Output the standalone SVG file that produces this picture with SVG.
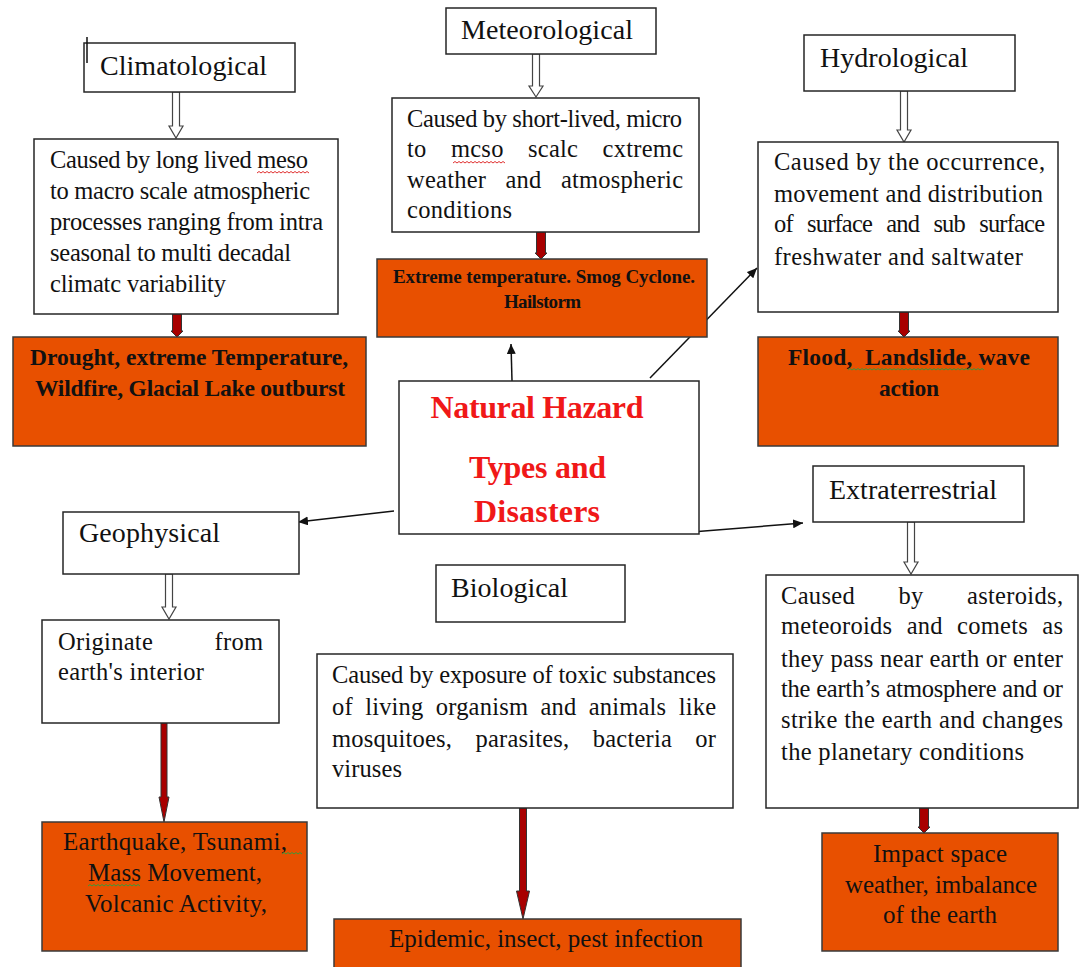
<svg xmlns="http://www.w3.org/2000/svg" width="1080" height="967" viewBox="0 0 1080 967">
<style>
.box{fill:#fff;stroke:#262626;stroke-width:1.5}
.res{fill:#E85000;stroke:#3a3a3a;stroke-width:1.5}
.t{font-family:"Liberation Serif","Times New Roman",serif;fill:#111}
.title{font-size:28px}
.desc{font-size:24.5px}
.rt{font-size:25px}
.rb{font-size:23.5px;font-weight:bold}
.mb{font-size:19px;font-weight:bold}
.ctr{font-size:32px;font-weight:bold;fill:#F01818;text-anchor:middle}
.mid{text-anchor:middle}
.conn{stroke:#111;stroke-width:1.5;fill:none;marker-end:url(#ah)}
.hollow{fill:#fff;stroke:#444;stroke-width:1.2}
.redar{fill:#A80000;stroke:#333;stroke-width:1}
.sqr{fill:none;stroke:#e03030;stroke-width:1}
.sqg{fill:none;stroke:#3a9a3a;stroke-width:1}
</style>
<defs>
<marker id="ah" markerUnits="userSpaceOnUse" markerWidth="11" markerHeight="9" refX="10" refY="4.5" orient="auto">
<path d="M0,0 L10,4.5 L0,9 z" fill="#111"/>
</marker>
</defs>

<g id="connectors">
<line class="conn" x1="512" y1="381" x2="511" y2="344"/>
<line class="conn" x1="650" y1="378" x2="757" y2="268"/>
<line class="conn" x1="394" y1="511" x2="298" y2="522"/>
<line class="conn" x1="679" y1="533" x2="803" y2="523"/>
<polygon class="hollow" points="172.5,92 179.5,92 179.5,126 183,126 176,138 169,126 172.5,126"/>
<polygon class="hollow" points="532.5,54 539.5,54 539.5,86 543,86 536,97 529,86 532.5,86"/>
<polygon class="hollow" points="900.5,91 907.5,91 907.5,130 911,130 904,142 897,130 900.5,130"/>
<polygon class="hollow" points="165.5,574 172.5,574 172.5,607 176,607 169,619 162,607 165.5,607"/>
<polygon class="hollow" points="907.5,522 914.5,522 914.5,562 918,562 911,574 904,562 907.5,562"/>
<polygon class="redar" points="172.5,314 181.5,314 181.5,331 183,331 177,337 171,331 172.5,331"/>
<polygon class="redar" points="536.5,232 545.5,232 545.5,253 547,253 541,259 535,253 536.5,253"/>
<polygon class="redar" points="899.5,312 908.5,312 908.5,331 910,331 904,337 898,331 899.5,331"/>
<polygon class="redar" points="919.5,808 928.5,808 928.5,827 930,827 924,833 918,827 919.5,827"/>
<polygon class="redar" points="161,723 167,723 167,797 169,797 164,822 159,797 161,797"/>
<polygon class="redar" points="519.5,808 526.5,808 526.5,891 529.5,891 523,919 516.5,891 519.5,891"/>
</g>

<g id="climatological">
<rect class="box" x="84" y="43" width="211" height="49"/>
<line x1="87" y1="37" x2="87" y2="63" stroke="#111" stroke-width="1.5"/>
<text class="t title" x="100" y="75" textLength="167" lengthAdjust="spacing">Climatological</text>
</g>
<g id="climatological-desc">
<rect class="box" x="34" y="139" width="304" height="175"/>
<text class="t desc" x="50" y="168" textLength="258" lengthAdjust="spacing">Caused by long lived meso</text>
<text class="t desc" x="50" y="199" textLength="260" lengthAdjust="spacing">to macro scale atmospheric</text>
<text class="t desc" x="50" y="230" textLength="273" lengthAdjust="spacing">processes ranging from intra</text>
<text class="t desc" x="50" y="261" textLength="241" lengthAdjust="spacing">seasonal to multi decadal</text>
<text class="t desc" x="50" y="292" textLength="176" lengthAdjust="spacing">climatc variability</text>
<path class="sqr" d="M257 173 l2 -1.5 l2 1.5 l2 -1.5 l2 1.5 l2 -1.5 l2 1.5 l2 -1.5 l2 1.5 l2 -1.5 l2 1.5 l2 -1.5 l2 1.5 l2 -1.5 l2 1.5 l2 -1.5 l2 1.5 l2 -1.5 l2 1.5 l2 -1.5 l2 1.5 l2 -1.5 l2 1.5 l2 -1.5 l2 1.5 l2 -1.5 l2 1.5"/>
</g>
<g id="climatological-result">
<rect class="res" x="13" y="337" width="353" height="109"/>
<text class="t rb mid" x="189" y="365" textLength="318" lengthAdjust="spacing">Drought, extreme Temperature,</text>
<text class="t rb mid" x="190" y="396" textLength="310" lengthAdjust="spacing">Wildfire, Glacial Lake outburst</text>
</g>

<g id="meteorological">
<rect class="box" x="446" y="8" width="210" height="46"/>
<text class="t title" x="461" y="39" textLength="172" lengthAdjust="spacing">Meteorological</text>
</g>
<g id="meteorological-desc">
<rect class="box" x="392" y="98" width="307" height="134"/>
<text class="t desc" x="407" y="127" textLength="275" lengthAdjust="spacing">Caused by short-lived, micro</text>
<text class="t desc" x="407" y="157" word-spacing="18" textLength="276" lengthAdjust="spacing">to mcso scalc cxtremc</text>
<text class="t desc" x="407" y="188" word-spacing="13" textLength="276" lengthAdjust="spacing">weather and atmospheric</text>
<text class="t desc" x="407" y="218" textLength="105" lengthAdjust="spacing">conditions</text>
<path class="sqr" d="M453 163 l2 -1.5 l2 1.5 l2 -1.5 l2 1.5 l2 -1.5 l2 1.5 l2 -1.5 l2 1.5 l2 -1.5 l2 1.5 l2 -1.5 l2 1.5 l2 -1.5 l2 1.5 l2 -1.5 l2 1.5 l2 -1.5 l2 1.5 l2 -1.5 l2 1.5 l2 -1.5 l2 1.5 l2 -1.5 l2 1.5 l2 -1.5 l2 1.5"/>
</g>
<g id="meteorological-result">
<rect class="res" x="377" y="259" width="330" height="78"/>
<text class="t mb mid" x="544" y="283" textLength="302" lengthAdjust="spacing">Extreme temperature. Smog Cyclone.</text>
<text class="t mb mid" x="542.5" y="308" textLength="77" lengthAdjust="spacing">Hailstorm</text>
</g>

<g id="hydrological">
<rect class="box" x="804" y="35" width="211" height="56"/>
<text class="t title" x="820" y="67" textLength="148" lengthAdjust="spacing">Hydrological</text>
</g>
<g id="hydrological-desc">
<rect class="box" x="758" y="142" width="300" height="170"/>
<text class="t desc" x="774" y="170" textLength="271" lengthAdjust="spacing">Caused by the occurrence,</text>
<text class="t desc" x="774" y="202" textLength="269" lengthAdjust="spacing">movement and distribution</text>
<text class="t desc" x="774" y="232" word-spacing="9" textLength="271" lengthAdjust="spacing">of surface and sub surface</text>
<text class="t desc" x="774" y="265" textLength="249" lengthAdjust="spacing">freshwater and saltwater</text>
</g>
<g id="hydrological-result">
<rect class="res" x="758" y="337" width="300" height="109"/>
<text class="t rb mid" x="909" y="365" textLength="242" lengthAdjust="spacing" style="white-space:pre">Flood,  Landslide, wave</text>
<text class="t rb mid" x="909" y="396" textLength="60" lengthAdjust="spacing">action</text>
<path class="sqg" d="M848 370 l2 -1.5 l2 1.5 l2 -1.5 l2 1.5 l2 -1.5 l2 1.5 l2 -1.5 l2 1.5 l2 -1.5 l2 1.5 l2 -1.5 l2 1.5 l2 -1.5 l2 1.5 l2 -1.5 l2 1.5 l2 -1.5 l2 1.5 l2 -1.5 l2 1.5 l2 -1.5 l2 1.5 l2 -1.5 l2 1.5 l2 -1.5 l2 1.5 l2 -1.5 l2 1.5 l2 -1.5 l2 1.5 l2 -1.5 l2 1.5 l2 -1.5 l2 1.5 l2 -1.5 l2 1.5 l2 -1.5 l2 1.5 l2 -1.5 l2 1.5 l2 -1.5 l2 1.5 l2 -1.5 l2 1.5 l2 -1.5 l2 1.5 l2 -1.5 l2 1.5 l2 -1.5 l2 1.5 l2 -1.5 l2 1.5 l2 -1.5 l2 1.5 l2 -1.5 l2 1.5 l2 -1.5 l2 1.5 l2 -1.5 l2 1.5 l2 -1.5 l2 1.5 l2 -1.5 l2 1.5 l2 -1.5 l2 1.5 l2 -1.5 l2 1.5"/>
</g>

<g id="natural-hazard">
<rect class="box" x="399" y="381" width="300" height="153"/>
<text class="t ctr" x="537" y="418" textLength="213" lengthAdjust="spacing">Natural Hazard</text>
<text class="t ctr" x="537.5" y="478" textLength="137" lengthAdjust="spacing">Types and</text>
<text class="t ctr" x="537" y="522" textLength="126" lengthAdjust="spacing">Disasters</text>
</g>

<g id="geophysical">
<rect class="box" x="63" y="512" width="236" height="62"/>
<text class="t title" x="79" y="542" textLength="141" lengthAdjust="spacing">Geophysical</text>
</g>
<g id="geophysical-desc">
<rect class="box" x="42" y="620" width="237" height="103"/>
<text class="t desc" x="58" y="650" word-spacing="55" textLength="205" lengthAdjust="spacing">Originate from</text>
<text class="t desc" x="58" y="680" textLength="146" lengthAdjust="spacing">earth's interior</text>
</g>
<g id="geophysical-result">
<rect class="res" x="42" y="822" width="265" height="129"/>
<text class="t rt mid" x="175" y="850" textLength="224" lengthAdjust="spacing">Earthquake, Tsunami,</text>
<text class="t rt mid" x="175" y="881" textLength="174" lengthAdjust="spacing">Mass Movement,</text>
<text class="t rt mid" x="176" y="912" textLength="182" lengthAdjust="spacing">Volcanic Activity,</text>
<path class="sqg" d="M88 886 l2 -1.5 l2 1.5 l2 -1.5 l2 1.5 l2 -1.5 l2 1.5 l2 -1.5 l2 1.5 l2 -1.5 l2 1.5 l2 -1.5 l2 1.5 l2 -1.5 l2 1.5 l2 -1.5 l2 1.5 l2 -1.5 l2 1.5 l2 -1.5 l2 1.5 l2 -1.5 l2 1.5 l2 -1.5 l2 1.5 l2 -1.5 l2 1.5"/>
<path class="sqg" d="M282 854 l2 -1.5 l2 1.5 l2 -1.5 l2 1.5 l2 -1.5 l2 1.5 l2 -1.5 l2 1.5 l2 -1.5 l2 1.5"/>
</g>

<g id="biological">
<rect class="box" x="436" y="565" width="189" height="57"/>
<text class="t title" x="451" y="597" textLength="117" lengthAdjust="spacing">Biological</text>
</g>
<g id="biological-desc">
<rect class="box" x="317" y="654" width="416" height="154"/>
<text class="t desc" x="332" y="683" textLength="384" lengthAdjust="spacing">Caused by exposure of toxic substances</text>
<text class="t desc" x="332" y="715" word-spacing="6" textLength="384" lengthAdjust="spacing">of living organism and animals like</text>
<text class="t desc" x="332" y="747" word-spacing="17" textLength="384" lengthAdjust="spacing">mosquitoes, parasites, bacteria or</text>
<text class="t desc" x="332" y="777" textLength="70" lengthAdjust="spacing">viruses</text>
</g>
<g id="biological-result">
<rect class="res" x="334" y="919" width="407" height="52"/>
<text class="t rt" x="389" y="947" textLength="314" lengthAdjust="spacing">Epidemic, insect, pest infection</text>
</g>

<g id="extraterrestrial">
<rect class="box" x="813" y="466" width="211" height="56"/>
<text class="t title" x="829" y="499" textLength="168" lengthAdjust="spacing">Extraterrestrial</text>
</g>
<g id="extraterrestrial-desc">
<rect class="box" x="766" y="575" width="312" height="233"/>
<text class="t desc" x="781" y="604" word-spacing="37" textLength="282" lengthAdjust="spacing">Caused by asteroids,</text>
<text class="t desc" x="781" y="634" word-spacing="8" textLength="282" lengthAdjust="spacing">meteoroids and comets as</text>
<text class="t desc" x="781" y="667" textLength="282" lengthAdjust="spacing">they pass near earth or enter</text>
<text class="t desc" x="781" y="697" textLength="282" lengthAdjust="spacing">the earth’s atmosphere and or</text>
<text class="t desc" x="781" y="728" textLength="282" lengthAdjust="spacing">strike the earth and changes</text>
<text class="t desc" x="781" y="760" textLength="243" lengthAdjust="spacing">the planetary conditions</text>
</g>
<g id="extraterrestrial-result">
<rect class="res" x="822" y="833" width="236" height="118"/>
<text class="t rt mid" x="940" y="862" textLength="134" lengthAdjust="spacing">Impact space</text>
<text class="t rt mid" x="941" y="893" textLength="192" lengthAdjust="spacing">weather, imbalance</text>
<text class="t rt mid" x="940" y="923" textLength="114" lengthAdjust="spacing">of the earth</text>
</g>
</svg>
